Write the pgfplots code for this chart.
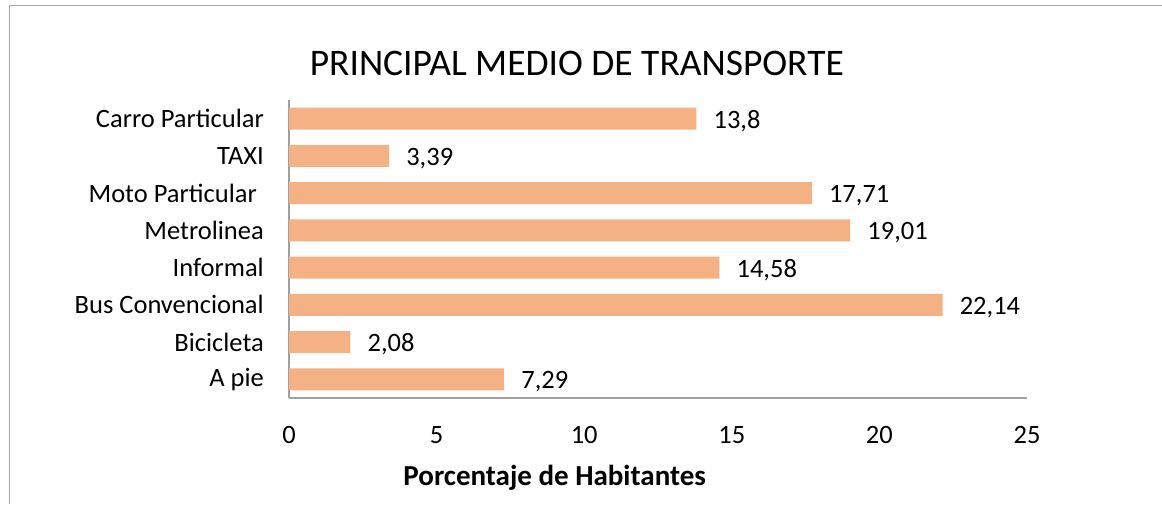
\documentclass[border=0pt]{standalone}
\usepackage{pgfplots}
\pgfplotsset{compat=1.18}
\usepackage{fontspec}
\setmainfont{Carlito}
\definecolor{barfill}{HTML}{F4B183}
\definecolor{axgray}{HTML}{A0A0A0}
\definecolor{framegray}{HTML}{A6A6A6}
\begin{document}
\begin{tikzpicture}[font=\fontsize{26.5}{31}\selectfont]
  \path[use as bounding box] (0,0) rectangle (1162pt,-504pt);
  \draw[framegray, line width=1.5pt] (9.5pt,-504pt) -- (9.5pt,-5.5pt) -- (1162pt,-5.5pt);
  \begin{axis}[
      at={(289pt,-398pt)}, anchor=south west,
      scale only axis, width=738pt, height=298pt,
      xbar, bar width=22pt,
      xmin=0, xmax=25, ymin=-0.5, ymax=7.5,
      enlargelimits=false, clip=false,
      axis lines*=left,
      axis line style={draw=axgray, line width=1.5pt},
      major tick length=0pt,
      xtick={0,5,10,15,20,25},
      ytick={0,...,7},
      yticklabels={A pie, Bicicleta, Bus Convencional, Informal, Metrolinea,
        {Moto Particular\kern7pt}, TAXI, Carro Particular},
      /pgf/number format/assume math mode=true,
      xticklabel style={anchor=base, inner sep=0pt, yshift=-45.5pt},
      yticklabel style={anchor=east, inner sep=0pt, xshift=-25pt},
      xlabel={\fontsize{29}{34}\selectfont\bfseries Porcentaje de Habitantes},
      xlabel style={at={(axis description cs:0.36,0)}, anchor=center, yshift=-80pt},
      title={\fontsize{37.5}{42}\selectfont PRINCIPAL MEDIO DE TRANSPORTE},
      title style={at={(axis description cs:0.39,1)}, anchor=center, yshift=30.5pt},
      nodes near coords={\pgfmathprintnumber[use comma, fixed, precision=2]{\pgfplotspointmeta}},
      nodes near coords style={anchor=west, inner sep=0pt, xshift=17pt, yshift=-2.5pt},
    ]
    \addplot[fill=barfill, draw=none] coordinates {
      (7.29,0) (2.08,1) (22.14,2) (14.58,3) (19.01,4) (17.71,5) (3.39,6) (13.8,7)};
  \end{axis}
\end{tikzpicture}
\end{document}
